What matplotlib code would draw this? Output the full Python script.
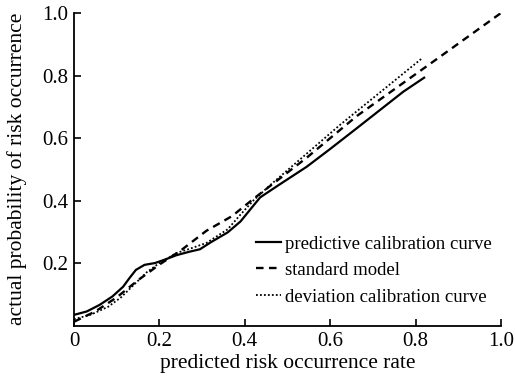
import numpy as np
import matplotlib
matplotlib.use('Agg')
import matplotlib.pyplot as plt

# Curve values
pred_x = [0, 0.03, 0.06, 0.09, 0.115, 0.13, 0.145, 0.165, 0.19, 0.215, 0.24,
          0.27, 0.295, 0.32, 0.36, 0.39, 0.415, 0.436, 0.48, 0.545, 0.6, 0.662, 0.771, 0.82]
pred_y = [0.034, 0.045, 0.066, 0.093, 0.124, 0.152, 0.178, 0.194, 0.200, 0.212, 0.225,
          0.236, 0.244, 0.266, 0.298, 0.333, 0.375, 0.41, 0.45, 0.508, 0.565, 0.631, 0.748, 0.793]

std_x = [0, 0.05, 0.1, 0.15, 0.2, 0.25, 0.31, 0.37, 0.42, 0.545, 0.662, 0.85, 1.0]
std_y = [0.012, 0.045, 0.09, 0.145, 0.195, 0.24, 0.303, 0.35, 0.405, 0.537, 0.67, 0.853, 1.0]

dev_x = [0, 0.04, 0.08, 0.11, 0.14, 0.17, 0.2, 0.24, 0.27, 0.31, 0.36, 0.39,
         0.42, 0.46, 0.545, 0.623, 0.815]
dev_y = [0.02, 0.035, 0.06, 0.09, 0.13, 0.17, 0.2, 0.232, 0.245, 0.264, 0.308, 0.355,
         0.4, 0.45, 0.55, 0.642, 0.855]

labels = ['predictive calibration curve', 'standard model', 'deviation calibration curve']
xticks = [0, 0.2, 0.4, 0.6, 0.8, 1.0]
xtick_labels = ['0', '0.2', '0.4', '0.6', '0.8', '1.0']
yticks = [0.2, 0.4, 0.6, 0.8, 1.0]
ytick_labels = ['0.2', '0.4', '0.6', '0.8', '1.0']

plt.rcParams['font.family'] = ['Liberation Serif', 'DejaVu Serif']

fig = plt.figure(figsize=(5.15, 3.77), dpi=100)
ax = fig.add_axes([0.1437, 0.1366, 0.8291, 0.8289])

ax.plot(pred_x, pred_y, color='black', lw=1.6, ls='-', label=labels[0])
ax.plot(std_x, std_y, color='black', lw=1.7, ls=(0, (3.2, 2.3)), label=labels[1])
ax.plot(dev_x, dev_y, color='black', lw=1.3, ls=(0, (1, 1.2)), label=labels[2])

ax.set_xlim(0, 1)
ax.set_ylim(0, 1)
ax.set_xticks(xticks)
ax.set_xticklabels(xtick_labels)
ax.set_yticks(yticks)
ax.set_yticklabels(ytick_labels)
ax.tick_params(direction='in', length=5, width=1.2, labelsize=15)
ax.tick_params(axis='x', pad=5)
ax.tick_params(axis='y', pad=4)
for side in ['top', 'right']:
    ax.spines[side].set_visible(False)
for side in ['left', 'bottom']:
    ax.spines[side].set_linewidth(1.3)

ax.set_xlabel('predicted risk occurrence rate', fontsize=15.5, labelpad=2)
ax.set_ylabel('actual probability of risk occurrence', fontsize=15.5, labelpad=11)

ax.legend(loc='lower right', bbox_to_anchor=(0.995, 0.04), frameon=False, fontsize=13.5,
          handlelength=1.35, handletextpad=0.2, labelspacing=0.5, borderaxespad=0)

fig.savefig('out.png', dpi=100)
